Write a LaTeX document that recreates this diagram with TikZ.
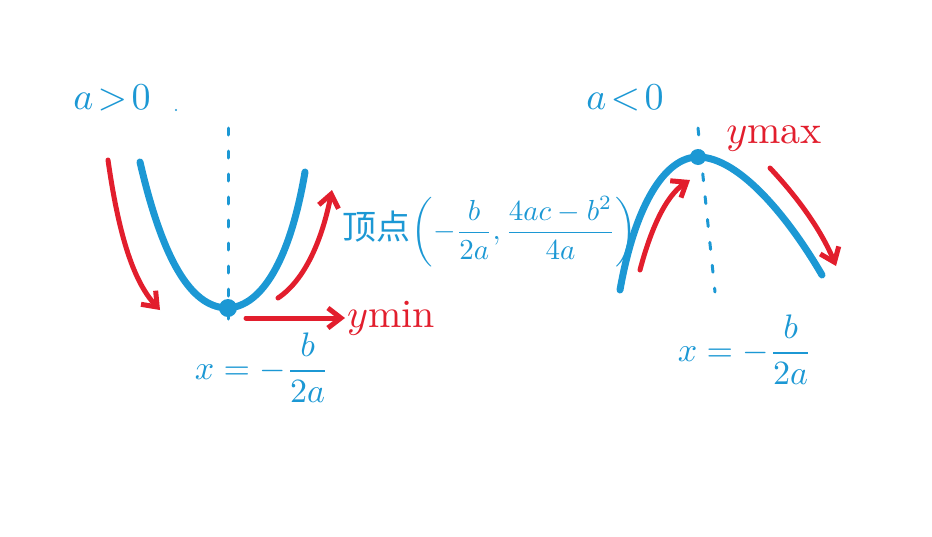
\documentclass[tikz,border=0pt]{standalone}
\usepackage{fontspec}
\usepackage{graphicx}
\newfontfamily\cjk{Noto Sans CJK SC}
\usetikzlibrary{arrows.meta}
\definecolor{pblue}{RGB}{28,152,212}
\definecolor{pred}{RGB}{226,30,45}
\newcommand{\bigtx}[2]{\scalebox{#1}{#2}}
\tikzset{
  curve/.style={pblue,line width=7pt,line cap=round},
  axisline/.style={pblue,line width=3pt,dash pattern=on 7pt off 16pt,line cap=round},
  redarrow/.style={pred,line width=5pt,line cap=round,-{Straight Barb[length=13pt,width=20pt,line width=5pt]}},
  btext/.style={pblue,inner sep=2pt},
  rtext/.style={pred,inner sep=2pt},
}
\begin{document}
\begin{tikzpicture}[x=1pt,y=-1pt]
\useasboundingbox (0,0) rectangle (932,536);
% left parabola
\coordinate (lv) at (228,308);
\coordinate (ll) at (140,162);
\coordinate (lr) at (305,172);
\draw[axisline] (228,128) -- (228,334);
\draw[curve] (ll) .. controls (165,270) and (195,308) .. (lv) .. controls (262,306) and (290,260) .. (lr);
\fill[pblue] (lv) circle (9pt);
\node[btext] (ag) at (112,98) {\bigtx{3.8}{$a\!>\!0$}};
\fill[pblue] (176,110) circle (1.2pt);
\coordinate (la1) at (108,160);
\coordinate (la2) at (160,310);
\draw[redarrow] (la1) .. controls (118,230) and (132,280) .. (la2);
\coordinate (ra1) at (278,298);
\coordinate (ra2) at (332,190);
\draw[redarrow] (ra1) .. controls (305,280) and (322,240) .. (ra2);
\node[rtext,anchor=west] (ymin) at (345,318) {\bigtx{4}{$y\mathrm{min}$}};
\coordinate (ha) at (246,318);
\draw[redarrow] (ha) -- (ymin.west);
\node[btext] (lx) at (262,368) {\bigtx{3.4}{$\displaystyle x=-\frac{b}{2a}$}};
% vertex label
\node[btext,anchor=west,inner sep=0pt] (vert) at (342,232) {{\cjk\fontsize{34}{36}\selectfont 顶点}\,\bigtx{2.9}{$\displaystyle\biggl(-\frac{b}{2a},\frac{4ac-b^2}{4a}\biggr)$}};
% right parabola
\coordinate (rv) at (698,157);
\coordinate (rl) at (620,290);
\coordinate (rr) at (822,275);
\draw[axisline] (698,128) -- (715,292);
\draw[curve] (rl) .. controls (635,205) and (665,157) .. (rv) .. controls (740,157) and (790,220) .. (rr);
\fill[pblue] (rv) circle (8pt);
\node[btext] (al) at (625,98) {\bigtx{3.8}{$a\!<\!0$}};
\node[rtext] (ymax) at (774,138) {\bigtx{4}{$y\mathrm{max}$}};
\coordinate (rb1) at (640,270);
\coordinate (rb2) at (690,180);
\draw[redarrow] (rb1) .. controls (650,232) and (665,196) .. (rb2);
\coordinate (rc1) at (770,168);
\coordinate (rc2) at (836,266);
\draw[redarrow] (rc1) .. controls (800,200) and (822,232) .. (rc2);
\node[btext] (rx) at (745,350) {\bigtx{3.4}{$\displaystyle x=-\frac{b}{2a}$}};
\end{tikzpicture}
\end{document}
